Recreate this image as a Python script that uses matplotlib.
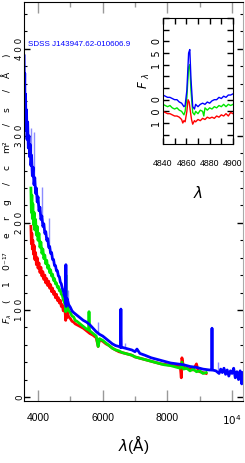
import numpy as np
import matplotlib
matplotlib.use("Agg")
import matplotlib.pyplot as plt
from matplotlib.ticker import MultipleLocator, FixedLocator

# ---- main spectra (wavelength in A, flux in 1e-17 erg/cm2/s/A) ----
blue_wl = [3570, 3580, 3590, 3600, 3615, 3630, 3645, 3660, 3680, 3700, 3720, 3740, 3760, 3780,
           3800, 3825, 3850, 3875, 3900, 3925, 3950, 3975, 4000, 4030, 4060, 4090, 4120, 4150,
           4180, 4210, 4240, 4270, 4300, 4330, 4360, 4390, 4420, 4450, 4480, 4510, 4540, 4570,
           4600, 4630, 4660, 4690, 4720, 4750, 4780, 4810, 4840, 4855, 4862, 4870, 4900, 4950,
           5000, 5050, 5100, 5200, 5300, 5400, 5500, 5600, 5700, 5800, 5900, 6000, 6100, 6200,
           6300, 6400, 6500, 6550, 6563, 6575, 6600, 6700, 6800, 6900, 7000, 7060, 7150, 7300,
           7500, 7700, 7900, 8100, 8300, 8500, 8700, 8900, 9100, 9300, 9370, 9380, 9390, 9500,
           9600, 9650, 9700, 9750, 9800, 9850, 9900, 9950, 10000, 10050, 10100, 10150, 10200,
           10250, 10300, 10340]
blue_fl = [392, 345, 372, 322, 348, 306, 330, 296, 316, 286, 300, 276, 290, 266,
           278, 254, 264, 244, 252, 234, 240, 224, 230, 214, 218, 204, 208, 196,
           199, 188, 190, 180, 182, 172, 173, 165, 166, 158, 158, 151, 151, 145,
           145, 139, 138, 132, 130, 125, 122, 117, 114, 107, 152, 104, 113, 106,
           103, 99, 97, 94, 91, 88, 86, 83, 79, 75, 72, 70, 67, 64,
           61, 59, 58, 57, 101, 57, 57, 56, 55, 54, 52, 55, 50, 48,
           45, 43, 41, 39, 38, 37, 35, 34, 32, 31, 31, 79, 31, 30,
           27, 32, 28, 33, 26, 31, 24, 30, 27, 33, 22, 29, 20,
           30, 15, 28]

green_wl = [3780, 3795, 3810, 3825, 3840, 3860, 3880, 3900, 3925, 3950, 3975, 4000, 4030, 4060,
            4090, 4120, 4150, 4180, 4210, 4240, 4270, 4300, 4330, 4360, 4390, 4420, 4450, 4480,
            4510, 4540, 4570, 4600, 4630, 4660, 4690, 4720, 4750, 4780, 4810, 4840, 4856, 4862,
            4868, 4900, 4950, 5000, 5050, 5100, 5150, 5200, 5300, 5400, 5500, 5570, 5577, 5585,
            5600, 5700, 5800, 5860, 5900, 6000, 6100, 6200, 6300, 6400, 6500, 6600, 6700, 6800,
            6900, 7000, 7100, 7300, 7500, 7700, 7900, 8100, 8300, 8400, 8450, 8500, 8600, 8700,
            8800, 8900, 9000, 9100, 9200]
green_fl = [240, 212, 232, 205, 222, 198, 212, 192, 204, 186, 196, 180, 188, 172,
            178, 165, 170, 159, 163, 153, 157, 148, 151, 143, 146, 139, 141, 134,
            136, 130, 131, 126, 127, 122, 123, 118, 117, 112, 109, 106, 98, 140,
            99, 106, 99, 97, 93, 92, 88, 87, 84, 81, 78, 77, 98, 77,
            76, 73, 70, 58, 67, 65, 62, 59, 56, 54, 53, 51, 50, 49,
            48, 46, 45, 43, 41, 39, 37, 36, 34, 33, 40, 32, 33, 30,
            32, 29, 30, 27, 28]

red_wl = [3780, 3795, 3810, 3825, 3840, 3860, 3880, 3900, 3925, 3950, 3975, 4000, 4030, 4060,
          4090, 4120, 4150, 4180, 4210, 4240, 4270, 4300, 4330, 4360, 4390, 4420, 4450, 4480,
          4510, 4540, 4570, 4600, 4630, 4660, 4690, 4720, 4750, 4780, 4810, 4840, 4856, 4862,
          4868, 4900, 4950, 5000, 5050, 5100, 5150, 5200, 5300, 5400, 5500, 5600, 5700, 5800,
          5860, 5900, 6000, 6100, 6200, 6300, 6400, 6500, 6600, 6700, 6800, 6900, 7000, 7200,
          7400, 7600, 7800, 8000, 8200, 8400, 8430, 8450, 8500, 8600, 8700, 8800, 8900, 8950,
          9000, 9100, 9200]
red_fl = [196, 176, 188, 170, 180, 164, 174, 158, 166, 152, 160, 148, 154, 143,
          149, 139, 144, 135, 140, 131, 136, 128, 133, 125, 129, 121, 125, 118,
          121, 114, 118, 111, 114, 108, 111, 104, 106, 99, 100, 97, 88, 111,
          90, 98, 92, 90, 87, 86, 84, 83, 81, 79, 76, 73, 71, 68,
          58, 66, 64, 61, 59, 56, 54, 52, 51, 50, 49, 48, 46, 44,
          42, 40, 38, 37, 36, 35, 22, 45, 34, 33, 32, 31, 38, 30,
          29, 28, 27]

# thin light-blue spikes on the blue spectrum (wavelength, top flux)
spike_wl = [3780, 3880, 4120, 4340, 4930, 5860, 6690, 7060, 7280, 9570]
spike_top = [309, 305, 241, 206, 123, 86, 62, 54, 48, 40]

# ---- inset (H beta region) ----
in_b_wl = [4840, 4842, 4844, 4846, 4848, 4850, 4852, 4854, 4856, 4858, 4859, 4860.5, 4862, 4863,
           4864, 4865.5, 4867, 4868, 4870, 4872, 4874, 4876, 4878, 4880, 4882, 4884, 4886, 4888,
           4890, 4892, 4894, 4896, 4898, 4900]
in_b_fl = [114, 113, 112, 112, 111, 110, 110, 108, 107, 104, 105, 118, 150, 153,
           128, 104, 102, 106, 104, 106, 107, 106, 108, 107, 109, 110, 110, 112,
           111, 113, 112, 114, 114, 115]
in_g_wl = [4840, 4842, 4844, 4846, 4848, 4850, 4852, 4854, 4856, 4858, 4859, 4860.5, 4862, 4863,
           4864, 4865.5, 4867, 4868, 4870, 4872, 4874, 4875, 4876, 4878, 4880, 4882, 4884, 4886,
           4888, 4890, 4892, 4894, 4896, 4898, 4900]
in_g_fl = [106, 105, 104, 105, 103, 102, 103, 101, 100, 97, 100, 112, 138, 140,
           118, 99, 97, 100, 98, 101, 100, 96, 103, 101, 103, 102, 104, 103,
           105, 104, 106, 104, 106, 105, 106]
in_r_wl = [4840, 4842, 4844, 4846, 4848, 4850, 4852, 4854, 4856, 4857, 4858, 4859, 4860.5, 4861.5,
           4862.5, 4863.5, 4864.5, 4865.5, 4867, 4868, 4870, 4872, 4874, 4876, 4878, 4880, 4882,
           4884, 4886, 4888, 4890, 4892, 4894, 4896, 4898, 4900]
in_r_fl = [100, 99, 98, 98, 97, 96, 96, 95, 93, 90, 92, 91, 100, 110,
           108, 100, 93, 89, 92, 91, 93, 92, 94, 93, 95, 94, 95,
           94, 96, 95, 97, 96, 98, 96, 99, 98]

main_xticks = [4000, 6000, 8000, 10000]
main_xticklabels = ["4000", "6000", "8000", "$10^4$"]
main_yticks = [0, 100, 200, 300, 400]
inset_xticks = [4840, 4860, 4880, 4900]
inset_yticks = [100, 150]

narrow = "Liberation Sans"
BLUE = "#0000ff"
GREEN = "#00e600"
RED = "#ff0000"

fig = plt.figure(figsize=(2.45, 4.63), dpi=100)
ax = fig.add_axes([0.098, 0.134, 0.894, 0.862])

ax.plot(red_wl, red_fl, color=RED, lw=2.0)
ax.plot(green_wl, green_fl, color=GREEN, lw=2.0)
base = np.interp(spike_wl, blue_wl, blue_fl)
ax.vlines(spike_wl, base, spike_top, color=BLUE, alpha=0.45, lw=1.0)
ax.plot(blue_wl, blue_fl, color=BLUE, lw=2.0)

ax.set_xlim(3567, 10340)
ax.set_ylim(-4.6, 454)

ax.xaxis.set_major_locator(FixedLocator(main_xticks))
ax.xaxis.set_minor_locator(FixedLocator([5000, 7000, 9000]))
ax.set_xticklabels(main_xticklabels, family=narrow, fontsize=7.5)
ax.tick_params(axis="x", which="major", direction="in", length=8, width=1,
               color="#999999", top=True, pad=9)
ax.tick_params(axis="x", which="minor", direction="in", length=3.5, width=1,
               color="#999999", top=True)

ax.yaxis.set_major_locator(FixedLocator(main_yticks))
ax.yaxis.set_minor_locator(MultipleLocator(20))
ax.set_yticklabels([" ".join(str(v)) for v in main_yticks], rotation=90,
                   va="center", fontsize=6.3)
ax.tick_params(axis="y", which="major", direction="in", length=4, width=1,
               right=True, pad=0)
ax.tick_params(axis="y", which="minor", direction="in", length=2, width=0.8,
               right=True)
ax.spines["right"].set_color("#aaaaaa")

ylab = (r"$F_\lambda$    (    1    0⁻¹⁷     e    r    g     /    c    m²     /    s     /"
        r"    Å     )")
ax.set_ylabel(ylab, fontsize=6.6)
ax.yaxis.set_label_coords(-0.046, 0.533)
ax.set_xlabel(r"$\lambda$($\mathrm{\AA}$)", family=narrow, fontsize=11, labelpad=4)

ax.text(3680, 405, "SDSS J143947.62-010606.9", color=BLUE, family=narrow,
        fontsize=5.8, va="center")

# ---- inset ----
ins = fig.add_axes([0.665, 0.689, 0.286, 0.272])
ins.plot(in_r_wl, in_r_fl, color=RED, lw=1.0)
ins.plot(in_g_wl, in_g_fl, color=GREEN, lw=1.0)
ins.plot(in_b_wl, in_b_fl, color=BLUE, lw=1.0)
ins.set_xlim(4840, 4900)
ins.set_ylim(72, 180)
ins.xaxis.set_major_locator(FixedLocator(inset_xticks))
ins.xaxis.set_minor_locator(MultipleLocator(10))
ins.set_xticklabels([str(v) for v in inset_xticks], family=narrow, fontsize=6.3)
ins.yaxis.set_major_locator(FixedLocator(inset_yticks))
ins.yaxis.set_minor_locator(MultipleLocator(10))
ins.set_yticklabels(["  ".join(str(v)) for v in inset_yticks], rotation=90,
                    va="center", fontsize=7)
ins.tick_params(which="major", direction="in", length=4, width=1,
                top=True, right=True)
ins.tick_params(which="minor", direction="in", length=4, width=1,
                top=True, right=True)
ins.tick_params(axis="x", pad=11)
ins.tick_params(axis="y", pad=1)
ins.set_xlabel(r"$\lambda$", fontsize=11, labelpad=12)
ins.set_ylabel(r"$F$ $_\lambda$", fontsize=8.5, labelpad=0)

fig.savefig("out.png", dpi=100)
